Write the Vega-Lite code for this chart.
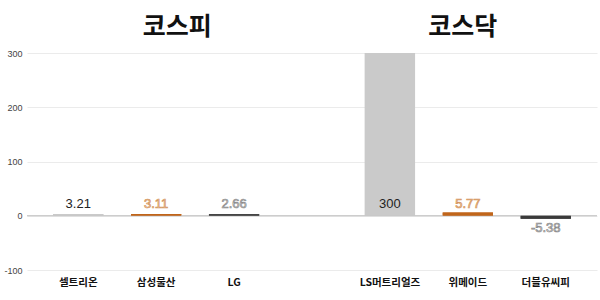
{
  "$schema": "https://vega.github.io/schema/vega-lite/v6.json",
  "width": 570,
  "height": 217,
  "autosize": {"type": "none"},
  "padding": {"left": 27, "top": 53, "right": 3, "bottom": 30},
  "background": "white",
  "config": {
    "view": {"stroke": null},
    "font": "Liberation Sans"
  },
  "datasets": {
    "stocks": [
      {"market": "코스피", "name": "셀트리온", "rank": 1, "value": 3.21},
      {"market": "코스피", "name": "삼성물산", "rank": 2, "value": 3.11},
      {"market": "코스피", "name": "LG", "rank": 3, "value": 2.66},
      {"market": "코스닥", "name": "LS머트리얼즈", "rank": 1, "value": 300},
      {"market": "코스닥", "name": "위메이드", "rank": 2, "value": 5.77},
      {"market": "코스닥", "name": "더블유씨피", "rank": 3, "value": -5.38}
    ]
  },
  "encoding": {
    "x": {
      "field": "name",
      "type": "nominal",
      "sort": null,
      "scale": {
        "domain": ["셀트리온", "삼성물산", "LG", " ", "LS머트리얼즈", "위메이드", "더블유씨피"],
        "paddingInner": 0.355,
        "paddingOuter": 0.335
      },
      "axis": {
        "title": null,
        "labelAngle": 0,
        "domain": false,
        "ticks": false,
        "labelPadding": 7,
        "labelFont": "Noto Sans CJK KR",
        "labelFontWeight": "bold",
        "labelFontSize": 10.5,
        "labelColor": "#111"
      }
    }
  },
  "layer": [
    {
      "data": {"name": "stocks"},
      "mark": {"type": "bar", "orient": "vertical"},
      "encoding": {
        "y": {
          "field": "value",
          "type": "quantitative",
          "scale": {"domain": [-100, 300], "nice": false, "zero": true},
          "axis": {
            "title": null,
            "values": [-100, -50, 0, 50, 100, 150, 200, 250, 300],
            "labelExpr": "datum.value % 100 === 0 ? '' + datum.value : ''",
            "domain": false,
            "ticks": false,
            "labelPadding": 5,
            "labelFontSize": 9,
            "labelColor": "#444",
            "gridColor": "#ebebeb",
            "gridWidth": 1
          }
        },
        "color": {
          "field": "rank",
          "type": "ordinal",
          "scale": {"domain": [1, 2, 3], "range": ["#cacaca", "#c0651a", "#3a3a3a"]},
          "legend": null
        }
      }
    },
    {
      "data": {"values": [{"zero": 0}]},
      "mark": {"type": "rule", "color": "#bdbdbd", "strokeWidth": 1},
      "encoding": {
        "y": {"field": "zero", "type": "quantitative"},
        "x": {"value": 0},
        "x2": {"value": 570}
      }
    },
    {
      "data": {"name": "stocks"},
      "mark": {"type": "bar", "orient": "vertical"},
      "encoding": {
        "y": {"field": "value", "type": "quantitative"},
        "color": {
          "field": "rank",
          "type": "ordinal",
          "scale": {"domain": [1, 2, 3], "range": ["#cacaca", "#c0651a", "#3a3a3a"]},
          "legend": null
        }
      }
    },
    {
      "data": {"name": "stocks"},
      "transform": [{"filter": "datum.value >= 0"}],
      "mark": {"type": "text", "dy": -12, "fontSize": 13, "strokeWidth": 0.7, "baseline": "middle"},
      "encoding": {
        "y": {"datum": 0, "type": "quantitative"},
        "text": {"field": "value", "type": "nominal"},
        "fill": {
          "field": "rank",
          "type": "ordinal",
          "scale": {"domain": [1, 2, 3], "range": ["#222222", "#f4d9bf", "#eeeeee"]},
          "legend": null
        },
        "stroke": {
          "field": "rank",
          "type": "ordinal",
          "scale": {"domain": [1, 2, 3], "range": ["transparent", "#d4955c", "#8a8a8a"]},
          "legend": null
        }
      }
    },
    {
      "data": {"name": "stocks"},
      "transform": [{"filter": "datum.value < 0"}],
      "mark": {"type": "text", "dy": 12, "fontSize": 13, "strokeWidth": 0.7, "baseline": "middle"},
      "encoding": {
        "y": {"datum": 0, "type": "quantitative"},
        "text": {"field": "value", "type": "nominal"},
        "fill": {
          "field": "rank",
          "type": "ordinal",
          "scale": {"domain": [1, 2, 3], "range": ["#222222", "#f4d9bf", "#eeeeee"]},
          "legend": null
        },
        "stroke": {
          "field": "rank",
          "type": "ordinal",
          "scale": {"domain": [1, 2, 3], "range": ["transparent", "#d4955c", "#8a8a8a"]},
          "legend": null
        }
      }
    },
    {
      "data": {"values": [{"market": "코스피", "anchor": "삼성물산"}]},
      "mark": {"type": "text", "font": "Noto Sans CJK KR", "fontWeight": "bold", "fontSize": 25, "color": "#111", "dx": 21, "baseline": "middle"},
      "encoding": {
        "y": {"datum": 348, "type": "quantitative"},
        "x": {"field": "anchor", "type": "nominal"},
        "text": {"field": "market"}
      }
    },
    {
      "data": {"values": [{"market": "코스닥", "anchor": "위메이드"}]},
      "mark": {"type": "text", "font": "Noto Sans CJK KR", "fontWeight": "bold", "fontSize": 25, "color": "#111", "dx": -5, "baseline": "middle"},
      "encoding": {
        "y": {"datum": 348, "type": "quantitative"},
        "x": {"field": "anchor", "type": "nominal"},
        "text": {"field": "market"}
      }
    }
  ]
}
